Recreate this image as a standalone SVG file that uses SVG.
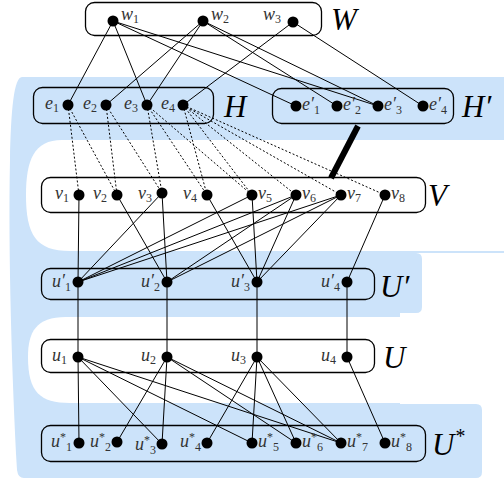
<svg xmlns="http://www.w3.org/2000/svg" width="504" height="485" viewBox="0 0 504 485">
<style>
.box{fill:none;stroke:#000;stroke-width:1.3}
.e{stroke:#000;stroke-width:1;fill:none}
.d{stroke:#000;stroke-width:1;stroke-dasharray:2 2;fill:none}
.n{fill:#000}
.lb{font-family:"Liberation Serif",serif;font-style:italic;font-size:18px;fill:#333}
.sb{font-style:normal;font-size:12px}
.st{font-style:normal;font-size:12px}
.big{font-family:"Liberation Serif",serif;font-style:italic;font-size:31px;fill:#000}
</style>
<g id="background">
<path d="M22,77 L504,77 L504,253 L416,253 Q422,253 422,259 L422,307 Q422,313 416,313 L400,313 L400,404 L476,404 Q482,404 482,410 L482,472 Q482,478 476,478 L24,478 Q18,478 17,470 C12,380 8,250 10,160 C11,110 14,77 22,77 Z" fill="#cce3fa"/>
<path d="M504,140 L62,140 C34,140 26,160 26,195 C26,235 36,251 70,251 L504,251 Z" fill="#fff"/>
<path d="M400,317 L66,317 C36,317 28,332 28,357 C28,392 40,403 70,403 L400,403 Z" fill="#fff"/>
</g>
<g id="connectors">
<line class="e" x1="113" y1="21" x2="68" y2="105"/>
<line class="e" x1="113" y1="21" x2="147" y2="105"/>
<line class="e" x1="113" y1="21" x2="296" y2="106"/>
<line class="e" x1="113" y1="21" x2="378" y2="106"/>
<line class="e" x1="203" y1="21" x2="106" y2="105"/>
<line class="e" x1="203" y1="21" x2="147" y2="105"/>
<line class="e" x1="203" y1="21" x2="337" y2="106"/>
<line class="e" x1="203" y1="21" x2="378" y2="106"/>
<line class="e" x1="293" y1="22" x2="183" y2="105"/>
<line class="e" x1="293" y1="22" x2="423" y2="106"/>
<line class="d" x1="68" y1="105" x2="79" y2="195"/>
<line class="d" x1="68" y1="105" x2="117" y2="195"/>
<line class="d" x1="106" y1="105" x2="117" y2="195"/>
<line class="d" x1="106" y1="105" x2="162" y2="193"/>
<line class="d" x1="147" y1="105" x2="162" y2="193"/>
<line class="d" x1="147" y1="105" x2="207" y2="195"/>
<line class="d" x1="147" y1="105" x2="252" y2="195"/>
<line class="d" x1="183" y1="105" x2="207" y2="195"/>
<line class="d" x1="183" y1="105" x2="252" y2="195"/>
<line class="d" x1="183" y1="105" x2="296" y2="195"/>
<line class="d" x1="183" y1="105" x2="341" y2="195"/>
<line class="d" x1="183" y1="105" x2="385" y2="195"/>
<line x1="358" y1="126" x2="331" y2="178" stroke="#000" stroke-width="6"/>
<line class="e" x1="79" y1="195" x2="78" y2="282"/>
<line class="e" x1="117" y1="195" x2="167" y2="282"/>
<line class="e" x1="162" y1="193" x2="78" y2="282"/>
<line class="e" x1="162" y1="193" x2="167" y2="282"/>
<line class="e" x1="207" y1="195" x2="257" y2="282"/>
<line class="e" x1="252" y1="195" x2="78" y2="282"/>
<line class="e" x1="252" y1="195" x2="257" y2="282"/>
<line class="e" x1="296" y1="195" x2="78" y2="282"/>
<line class="e" x1="296" y1="195" x2="167" y2="282"/>
<line class="e" x1="296" y1="195" x2="257" y2="282"/>
<line class="e" x1="341" y1="195" x2="78" y2="282"/>
<line class="e" x1="341" y1="195" x2="167" y2="282"/>
<line class="e" x1="341" y1="195" x2="257" y2="282"/>
<line class="e" x1="385" y1="195" x2="347" y2="282"/>
<line class="e" x1="78" y1="282" x2="78" y2="357"/>
<line class="e" x1="167" y1="282" x2="167" y2="357"/>
<line class="e" x1="257" y1="282" x2="257" y2="357"/>
<line class="e" x1="347" y1="282" x2="347" y2="357"/>
<line class="e" x1="78" y1="357" x2="79" y2="443"/>
<line class="e" x1="78" y1="357" x2="162" y2="444"/>
<line class="e" x1="78" y1="357" x2="252" y2="443"/>
<line class="e" x1="78" y1="357" x2="341" y2="443"/>
<line class="e" x1="167" y1="357" x2="117" y2="442"/>
<line class="e" x1="167" y1="357" x2="162" y2="444"/>
<line class="e" x1="167" y1="357" x2="296" y2="443"/>
<line class="e" x1="167" y1="357" x2="341" y2="443"/>
<line class="e" x1="257" y1="357" x2="207" y2="443"/>
<line class="e" x1="257" y1="357" x2="252" y2="443"/>
<line class="e" x1="257" y1="357" x2="296" y2="443"/>
<line class="e" x1="257" y1="357" x2="341" y2="443"/>
<line class="e" x1="347" y1="357" x2="385" y2="443"/>
</g>
<g id="W">
<rect class="box" x="85.5" y="2.5" width="236" height="33" rx="9"/>
<text class="big" x="331" y="30">W</text>
<circle class="n" cx="113" cy="21" r="5.5"/><text class="lb" x="121" y="20">w<tspan class="sb" dy="3">1</tspan></text>
<circle class="n" cx="203" cy="21" r="5.5"/><text class="lb" x="211" y="20">w<tspan class="sb" dy="3">2</tspan></text>
<circle class="n" cx="293" cy="22" r="5.5"/><text class="lb" x="263" y="20">w<tspan class="sb" dy="3">3</tspan></text>
</g>
<g id="H">
<rect class="box" x="33.5" y="87.5" width="180" height="36" rx="9"/>
<text class="big" x="224" y="117">H</text>
<circle class="n" cx="68" cy="105" r="5.5"/><text class="lb" x="45" y="109">e<tspan class="sb" dy="3">1</tspan></text>
<circle class="n" cx="106" cy="105" r="5.5"/><text class="lb" x="83" y="109">e<tspan class="sb" dy="3">2</tspan></text>
<circle class="n" cx="147" cy="105" r="5.5"/><text class="lb" x="124" y="109">e<tspan class="sb" dy="3">3</tspan></text>
<circle class="n" cx="183" cy="105" r="5.5"/><text class="lb" x="161" y="109">e<tspan class="sb" dy="3">4</tspan></text>
</g>
<g id="Hprime">
<rect class="box" x="272.5" y="88.5" width="181" height="35" rx="9"/>
<text class="big" x="462" y="117">H′</text>
<circle class="n" cx="296" cy="106" r="5.5"/><text class="lb" x="302" y="110">e′<tspan class="sb" dy="4">1</tspan></text>
<circle class="n" cx="337" cy="106" r="5.5"/><text class="lb" x="343" y="110">e′<tspan class="sb" dy="4">2</tspan></text>
<circle class="n" cx="378" cy="106" r="5.5"/><text class="lb" x="384" y="110">e′<tspan class="sb" dy="4">3</tspan></text>
<circle class="n" cx="423" cy="106" r="5.5"/><text class="lb" x="429" y="110">e′<tspan class="sb" dy="4">4</tspan></text>
</g>
<g id="V">
<rect class="box" x="41.5" y="177.5" width="384" height="35" rx="9"/>
<text class="big" x="428" y="206">V</text>
<circle class="n" cx="79" cy="195" r="5.5"/><text class="lb" x="55" y="199">v<tspan class="sb" dy="3">1</tspan></text>
<circle class="n" cx="117" cy="195" r="5.5"/><text class="lb" x="93" y="199">v<tspan class="sb" dy="3">2</tspan></text>
<circle class="n" cx="162" cy="193" r="5.5"/><text class="lb" x="138" y="199">v<tspan class="sb" dy="3">3</tspan></text>
<circle class="n" cx="207" cy="195" r="5.5"/><text class="lb" x="183" y="199">v<tspan class="sb" dy="3">4</tspan></text>
<circle class="n" cx="252" cy="195" r="5.5"/><text class="lb" x="258" y="199">v<tspan class="sb" dy="3">5</tspan></text>
<circle class="n" cx="296" cy="195" r="5.5"/><text class="lb" x="302" y="199">v<tspan class="sb" dy="3">6</tspan></text>
<circle class="n" cx="341" cy="195" r="5.5"/><text class="lb" x="347" y="199">v<tspan class="sb" dy="3">7</tspan></text>
<circle class="n" cx="385" cy="195" r="5.5"/><text class="lb" x="391" y="199">v<tspan class="sb" dy="3">8</tspan></text>
</g>
<g id="Uprime">
<rect class="box" x="41.5" y="268.5" width="333" height="31" rx="9"/>
<text class="big" x="380" y="297">U′</text>
<circle class="n" cx="78" cy="282" r="5.5"/><text class="lb" x="52" y="287">u′<tspan class="sb" dy="4">1</tspan></text>
<circle class="n" cx="167" cy="282" r="5.5"/><text class="lb" x="141" y="287">u′<tspan class="sb" dy="4">2</tspan></text>
<circle class="n" cx="257" cy="282" r="5.5"/><text class="lb" x="231" y="287">u′<tspan class="sb" dy="4">3</tspan></text>
<circle class="n" cx="347" cy="282" r="5.5"/><text class="lb" x="321" y="287">u′<tspan class="sb" dy="4">4</tspan></text>
</g>
<g id="U">
<rect class="box" x="41.5" y="339.5" width="333" height="33" rx="9"/>
<text class="big" x="383" y="368">U</text>
<circle class="n" cx="78" cy="357" r="5.5"/><text class="lb" x="52" y="361">u<tspan class="sb" dy="3">1</tspan></text>
<circle class="n" cx="167" cy="357" r="5.5"/><text class="lb" x="141" y="361">u<tspan class="sb" dy="3">2</tspan></text>
<circle class="n" cx="257" cy="357" r="5.5"/><text class="lb" x="231" y="361">u<tspan class="sb" dy="3">3</tspan></text>
<circle class="n" cx="347" cy="357" r="5.5"/><text class="lb" x="321" y="361">u<tspan class="sb" dy="3">4</tspan></text>
</g>
<g id="Ustar">
<rect class="box" x="41.5" y="425.5" width="384" height="36" rx="9"/>
<text class="big" x="432" y="455">U<tspan font-size="20" dy="-12">*</tspan></text>
<circle class="n" cx="79" cy="443" r="5.5"/><text class="lb" x="51" y="447">u<tspan class="st" dy="-6">*</tspan><tspan class="sb" dy="10">1</tspan></text>
<circle class="n" cx="117" cy="442" r="5.5"/><text class="lb" x="90" y="447">u<tspan class="st" dy="-6">*</tspan><tspan class="sb" dy="10">2</tspan></text>
<circle class="n" cx="162" cy="444" r="5.5"/><text class="lb" x="135" y="450">u<tspan class="st" dy="-6">*</tspan><tspan class="sb" dy="10">3</tspan></text>
<circle class="n" cx="207" cy="443" r="5.5"/><text class="lb" x="180" y="447">u<tspan class="st" dy="-6">*</tspan><tspan class="sb" dy="10">4</tspan></text>
<circle class="n" cx="252" cy="443" r="5.5"/><text class="lb" x="258" y="447">u<tspan class="st" dy="-6">*</tspan><tspan class="sb" dy="10">5</tspan></text>
<circle class="n" cx="296" cy="443" r="5.5"/><text class="lb" x="302" y="447">u<tspan class="st" dy="-6">*</tspan><tspan class="sb" dy="10">6</tspan></text>
<circle class="n" cx="341" cy="443" r="5.5"/><text class="lb" x="347" y="447">u<tspan class="st" dy="-6">*</tspan><tspan class="sb" dy="10">7</tspan></text>
<circle class="n" cx="385" cy="443" r="5.5"/><text class="lb" x="391" y="447">u<tspan class="st" dy="-6">*</tspan><tspan class="sb" dy="10">8</tspan></text>
</g>
</svg>
